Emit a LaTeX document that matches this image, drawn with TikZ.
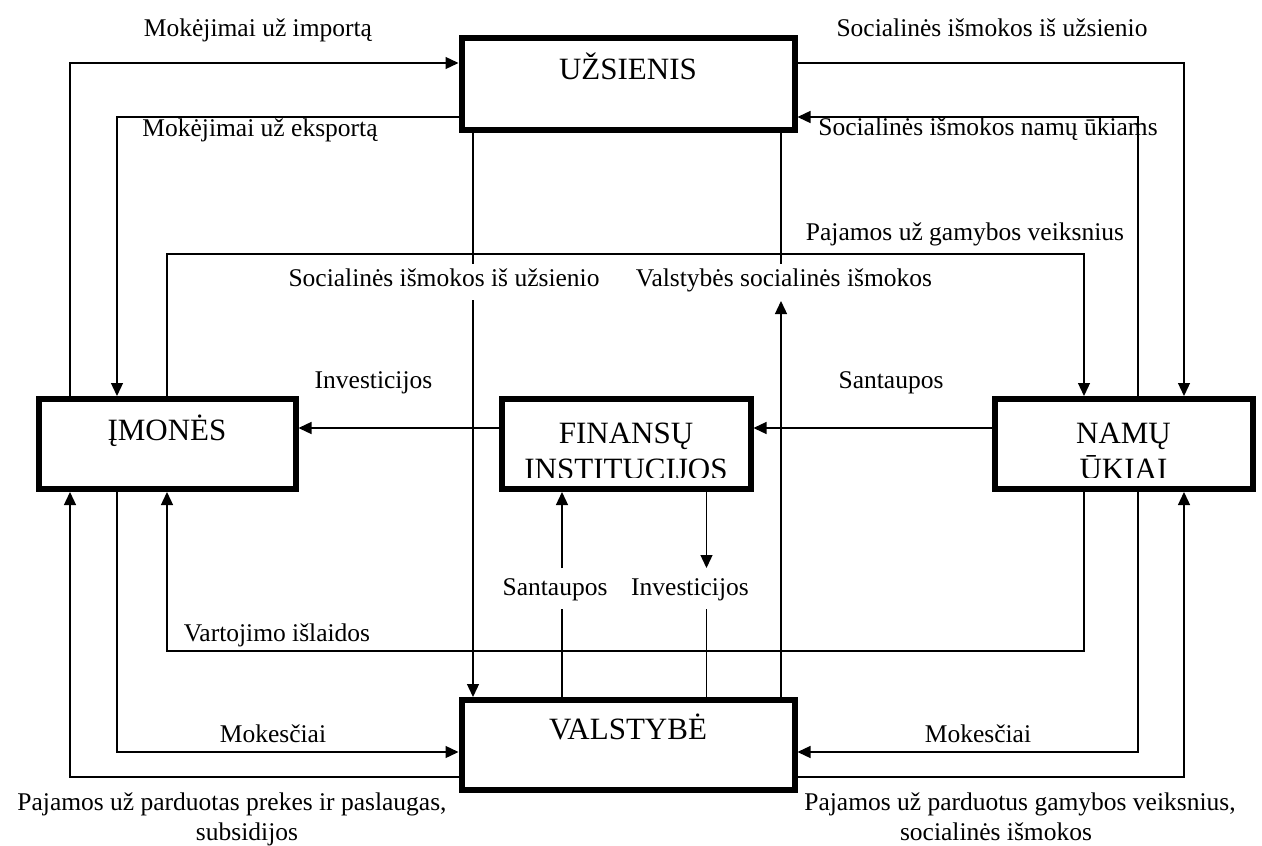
\documentclass[tikz,border=0pt]{standalone}
\usepackage{fontspec}
\setmainfont{Liberation Serif}
\usetikzlibrary{arrows.meta}
\begin{document}
\begin{tikzpicture}[x=1pt,y=-1pt,
  box/.style={draw, line width=6pt, inner sep=0pt, outer sep=3pt},
  boxtext/.style={font=\fontsize{31}{36}\selectfont, inner sep=0pt, align=center, anchor=base},
  lab/.style={font=\fontsize{25.5}{30}\selectfont, inner sep=0pt, align=center, anchor=base},
  con/.style={line width=1.3pt},
  arr/.style={con, -{Triangle[length=13pt,width=12pt]}}]
\useasboundingbox (0,0) rectangle (1262,846);
% boxes
\node[box, minimum width=333pt, minimum height=92pt] (uz) at (628,84) {};
\node[box, minimum width=257pt, minimum height=90pt] (im) at (167,444) {};
\node[box, minimum width=249pt, minimum height=90pt] (fi) at (626,444) {};
\node[box, minimum width=258pt, minimum height=90pt] (na) at (1123.5,444) {};
\node[box, minimum width=333pt, minimum height=90pt] (va) at (628,745) {};
% box texts
\node[boxtext] (uzT) at (628,79.3) {UŽSIENIS};
\node[boxtext] (imT) at (167,440) {ĮMONĖS};
\node[boxtext] (vaT) at (628,739.3) {VALSTYBĖ};
\begin{scope}
\clip (fi.north west) rectangle (fi.east |- 0,477);
\node[boxtext] (fiT) at (626,479.3) {FINANSŲ\\INSTITUCIJOS};
\end{scope}
\begin{scope}
\clip (na.north west) rectangle (na.east |- 0,477);
\node[boxtext] (naT) at (1123.5,479.3) {NAMŲ\\ŪKIAI};
\end{scope}
% connectors
\draw[arr] (im.north -| 70,0) |- (uz.west |- 0,63);
\draw[arr] (uz.west |- 0,117) -| (im.north -| 117,0);
\draw[arr] (uz.east |- 0,63) -| (na.north -| 1184,0);
\draw[arr] (na.north -| 1138,0) |- (uz.east |- 0,117);
\coordinate (p5) at (1084,254);
\draw[arr] (im.north -| 167,0) |- (p5) -- (na.north -| p5);
\coordinate (a6) at (473,264);
\coordinate (b6) at (473,300);
\draw[con] (uz.south -| a6) -- (a6);
\draw[arr] (b6) -- (va.north -| b6);
\coordinate (a7) at (781,264);
\coordinate (b7) at (781,301);
\draw[con] (uz.south -| a7) -- (a7);
\draw[arr] (va.north -| b7) -- (b7);
\draw[arr] (fi.west |- 0,428) -- (im.east |- 0,428);
\draw[arr] (na.west |- 0,428) -- (fi.east |- 0,428);
\coordinate (a10) at (562,568);
\coordinate (b10) at (562,609);
\draw[con] (va.north -| b10) -- (b10);
\draw[arr] (a10) -- (fi.south -| a10);
\coordinate (a11) at (706.5,568);
\coordinate (b11) at (706.5,609);
\draw[arr] (fi.south -| a11) -- (a11);
\draw[con] (b11) -- (va.north -| b11);
\coordinate (p12) at (167,651);
\draw[arr] (na.south -| 1084,0) |- (p12) -- (im.south -| p12);
\draw[arr] (im.south -| 117,0) |- (va.west |- 0,752);
\draw[arr] (va.west |- 0,777) -| (im.south -| 70,0);
\draw[arr] (na.south -| 1138,0) |- (va.east |- 0,752);
\draw[arr] (va.east |- 0,777) -| (na.south -| 1184,0);
% labels
\node[lab] (l1) at (258,36.5) {Mokėjimai už importą};
\node[lab] (l2) at (260,136) {Mokėjimai už eksportą};
\node[lab] (l3) at (992,36) {Socialinės išmokos iš užsienio};
\node[lab] (l4) at (988,135) {Socialinės išmokos namų ūkiams};
\draw[con] (na.north -| 1138,0) -- (1138,117);
\node[lab] (l5) at (965,240) {Pajamos už gamybos veiksnius};
\node[lab] (l6) at (444,286.5) {Socialinės išmokos iš užsienio};
\node[lab] (l7) at (784,286.5) {Valstybės socialinės išmokos};
\node[lab] (l8) at (373.5,388) {Investicijos};
\node[lab] (l9) at (891,388) {Santaupos};
\node[lab] (l10) at (555,595) {Santaupos};
\node[lab] (l11) at (690,595) {Investicijos};
\node[lab] (l12) at (277,641) {Vartojimo išlaidos};
\node[lab] (l13) at (273,742) {Mokesčiai};
\node[lab] (l14) at (978,742) {Mokesčiai};
\node[lab] (l15) at (232,840) {Pajamos už parduotas prekes ir paslaugas,\\\hspace*{30pt}subsidijos};
\node[lab] (l16) at (1020,840) {Pajamos už parduotus gamybos veiksnius,\\socialinės išmokos\hspace*{48pt}};
\end{tikzpicture}
\end{document}
